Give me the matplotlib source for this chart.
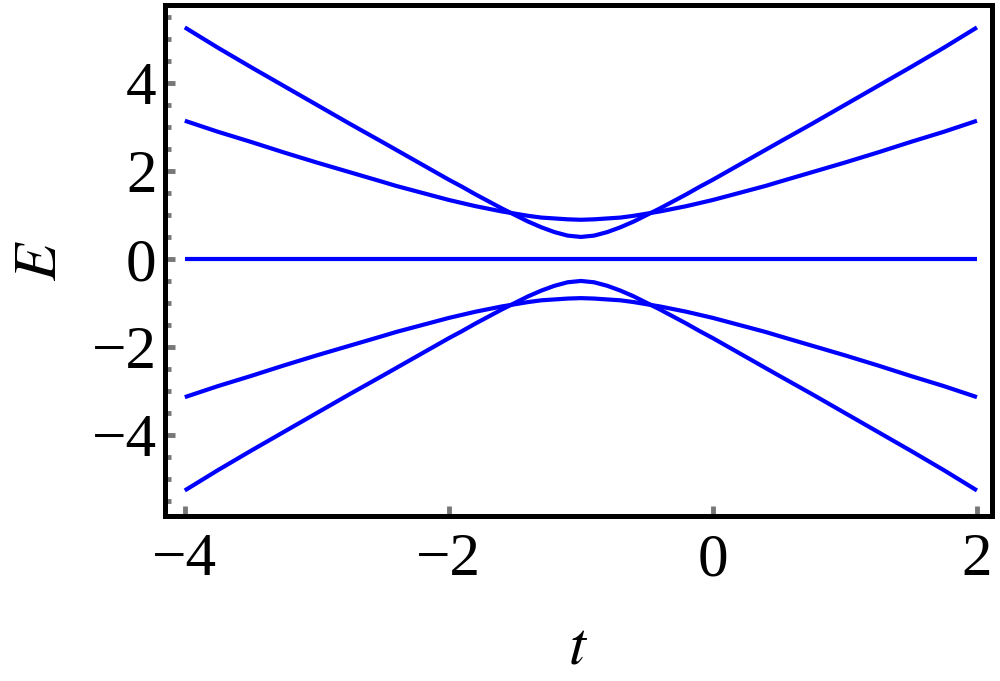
import numpy as np
import matplotlib.pyplot as plt
from matplotlib.ticker import MultipleLocator

# values
t = [-4.0, -3.75, -3.5, -3.25, -3.0, -2.75, -2.5, -2.4, -2.3, -2.2, -2.1,
     -2.0, -1.9, -1.8, -1.7, -1.6, -1.5, -1.4, -1.3, -1.2, -1.1, -1.0,
     -0.9, -0.8, -0.7, -0.6, -0.5, -0.4, -0.3, -0.2, -0.1, 0.0, 0.1,
     0.2, 0.3, 0.4, 0.5, 0.75, 1.0, 1.25, 1.5, 1.75, 2.0]
outer_up = [5.26, 4.80, 4.36, 3.93, 3.50, 3.07, 2.65, 2.48, 2.31, 2.14, 1.97,
            1.80, 1.64, 1.47, 1.31, 1.15, 1.00, 0.85, 0.72, 0.61, 0.53, 0.50,
            0.53, 0.61, 0.72, 0.85, 1.00, 1.15, 1.31, 1.47, 1.64, 1.80, 1.97,
            2.14, 2.31, 2.48, 2.65, 3.07, 3.50, 3.93, 4.36, 4.80, 5.26]
inner_up = [3.14, 2.89, 2.66, 2.42, 2.19, 1.97, 1.75, 1.66, 1.58, 1.50, 1.42,
            1.34, 1.27, 1.20, 1.14, 1.08, 1.03, 0.98, 0.94, 0.92, 0.90, 0.89,
            0.90, 0.92, 0.94, 0.98, 1.03, 1.08, 1.14, 1.20, 1.27, 1.34, 1.42,
            1.50, 1.58, 1.66, 1.75, 1.97, 2.19, 2.42, 2.66, 2.89, 3.14]
flat = [0.0] * len(t)
inner_dn = [-3.14, -2.89, -2.66, -2.42, -2.19, -1.97, -1.75, -1.66, -1.58, -1.50, -1.42,
            -1.34, -1.27, -1.20, -1.14, -1.08, -1.03, -0.98, -0.94, -0.92, -0.90, -0.89,
            -0.90, -0.92, -0.94, -0.98, -1.03, -1.08, -1.14, -1.20, -1.27, -1.34, -1.42,
            -1.50, -1.58, -1.66, -1.75, -1.97, -2.19, -2.42, -2.66, -2.89, -3.14]
outer_dn = [-5.26, -4.80, -4.36, -3.93, -3.50, -3.07, -2.65, -2.48, -2.31, -2.14, -1.97,
            -1.80, -1.64, -1.47, -1.31, -1.15, -1.00, -0.85, -0.72, -0.61, -0.53, -0.50,
            -0.53, -0.61, -0.72, -0.85, -1.00, -1.15, -1.31, -1.47, -1.64, -1.80, -1.97,
            -2.14, -2.31, -2.48, -2.65, -3.07, -3.50, -3.93, -4.36, -4.80, -5.26]

x_ticks = [-4, -2, 0, 2]
y_ticks = [-4, -2, 0, 2, 4]

plt.rcParams["font.family"] = ["Liberation Serif", "DejaVu Serif"]
plt.rcParams["mathtext.fontset"] = "stix"

fig = plt.figure(figsize=(10, 6.81), dpi=100)
ax = fig.add_axes([0.165, 0.2423, 0.827, 0.7504])

for ys in (outer_up, inner_up, flat, inner_dn, outer_dn):
    ax.plot(t, ys, color="#0000ff", lw=3.0, solid_capstyle="butt",
            solid_joinstyle="round")

ax.set_xlim(-4.15, 2.114)
ax.set_ylim(-5.84, 5.77)

ax.set_xticks(x_ticks)
ax.set_xticklabels([f"{v}".replace("-", "\u2212") for v in x_ticks])
ax.set_yticks(y_ticks)
ax.set_yticklabels([f"{v}".replace("-", "\u2212") for v in y_ticks])
ax.yaxis.set_minor_locator(MultipleLocator(0.5))

ax.tick_params(which="major", direction="in", length=7, width=3.5,
               color="#777777", labelsize=44, pad=6)
ax.tick_params(which="minor", direction="in", length=4.5, width=3.5,
               color="#777777")
ax.tick_params(axis="x", pad=12)

for s in ax.spines.values():
    s.set_linewidth(3.6)
    s.set_color("black")

ax.set_xlabel("$t$", fontsize=44, labelpad=24)
ax.set_ylabel("$E$", fontsize=44, labelpad=16)

fig.savefig("out.png", dpi=100)
